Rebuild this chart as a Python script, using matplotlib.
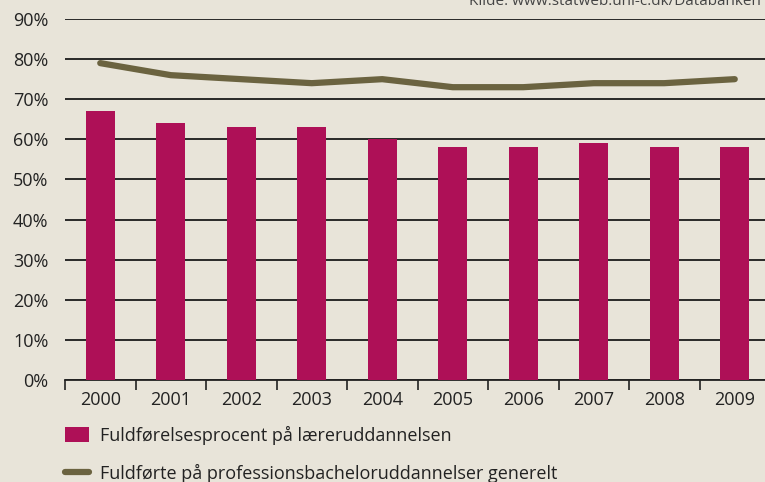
import matplotlib.pyplot as plt
import numpy as np

years = ["2000", "2001", "2002", "2003", "2004", "2005", "2006", "2007", "2008", "2009"]
laerer = [67, 64, 63, 63, 60, 58, 58, 59, 58, 58]
generelt = [79, 76, 75, 74, 75, 73, 73, 74, 74, 75]

bg = "#E8E4D9"
bar_col = "#AE1057"
line_col = "#6B6340"

plt.rcParams['font.family'] = ['Open Sans', 'DejaVu Sans']

fig = plt.figure(figsize=(7.65, 4.82), dpi=100, facecolor=bg)
ax = fig.add_axes([65 / 765, 102 / 482, 705 / 765, 361 / 482], facecolor=bg)

x = np.arange(len(years))
bars = ax.bar(x, laerer, width=0.41, color=bar_col, zorder=3,
              label="Fuldførelsesprocent på læreruddannelsen")
line, = ax.plot(x, generelt, color=line_col, linewidth=4.5, solid_capstyle='round',
                zorder=4, label="Fuldførte på professionsbacheloruddannelser generelt")

ax.set_xlim(-0.5, 9.5)
ax.set_ylim(0, 90)
ax.set_yticks(range(0, 91, 10))
ax.set_yticklabels([f"{v}%" for v in range(0, 91, 10)])
ax.yaxis.grid(True, color="#1a1a1a", linewidth=1.3, zorder=0)
ax.set_axisbelow(True)

ax.set_xticks(x)
ax.set_xticklabels(years)
ax.set_xticks(np.arange(-0.5, 10, 1), minor=True)
ax.tick_params(axis='x', which='major', length=0, pad=8, labelsize=13, colors="#222222")
ax.tick_params(axis='x', which='minor', length=7, width=1.2, color="#222222")
ax.tick_params(axis='y', length=0, pad=12, labelsize=13, colors="#222222")

for s in ['top', 'right', 'left']:
    ax.spines[s].set_visible(False)
ax.spines['bottom'].set_color("#222222")
ax.spines['bottom'].set_linewidth(1.3)

fig.text(0.995, 1.012, "Kilde: www.statweb.uni-c.dk/Databanken", ha='right', va='top',
         fontsize=11, color="#444444")

fig.legend(handles=[bars, line], loc='upper left', bbox_to_anchor=(65 / 765, 1 - 426 / 482),
           frameon=False, fontsize=13, handlelength=1.33, handleheight=0.9,
           labelspacing=1.05, handletextpad=0.6, borderpad=0, borderaxespad=0,
           labelcolor="#222222")

fig.savefig("out.png", dpi=100, facecolor=bg)
